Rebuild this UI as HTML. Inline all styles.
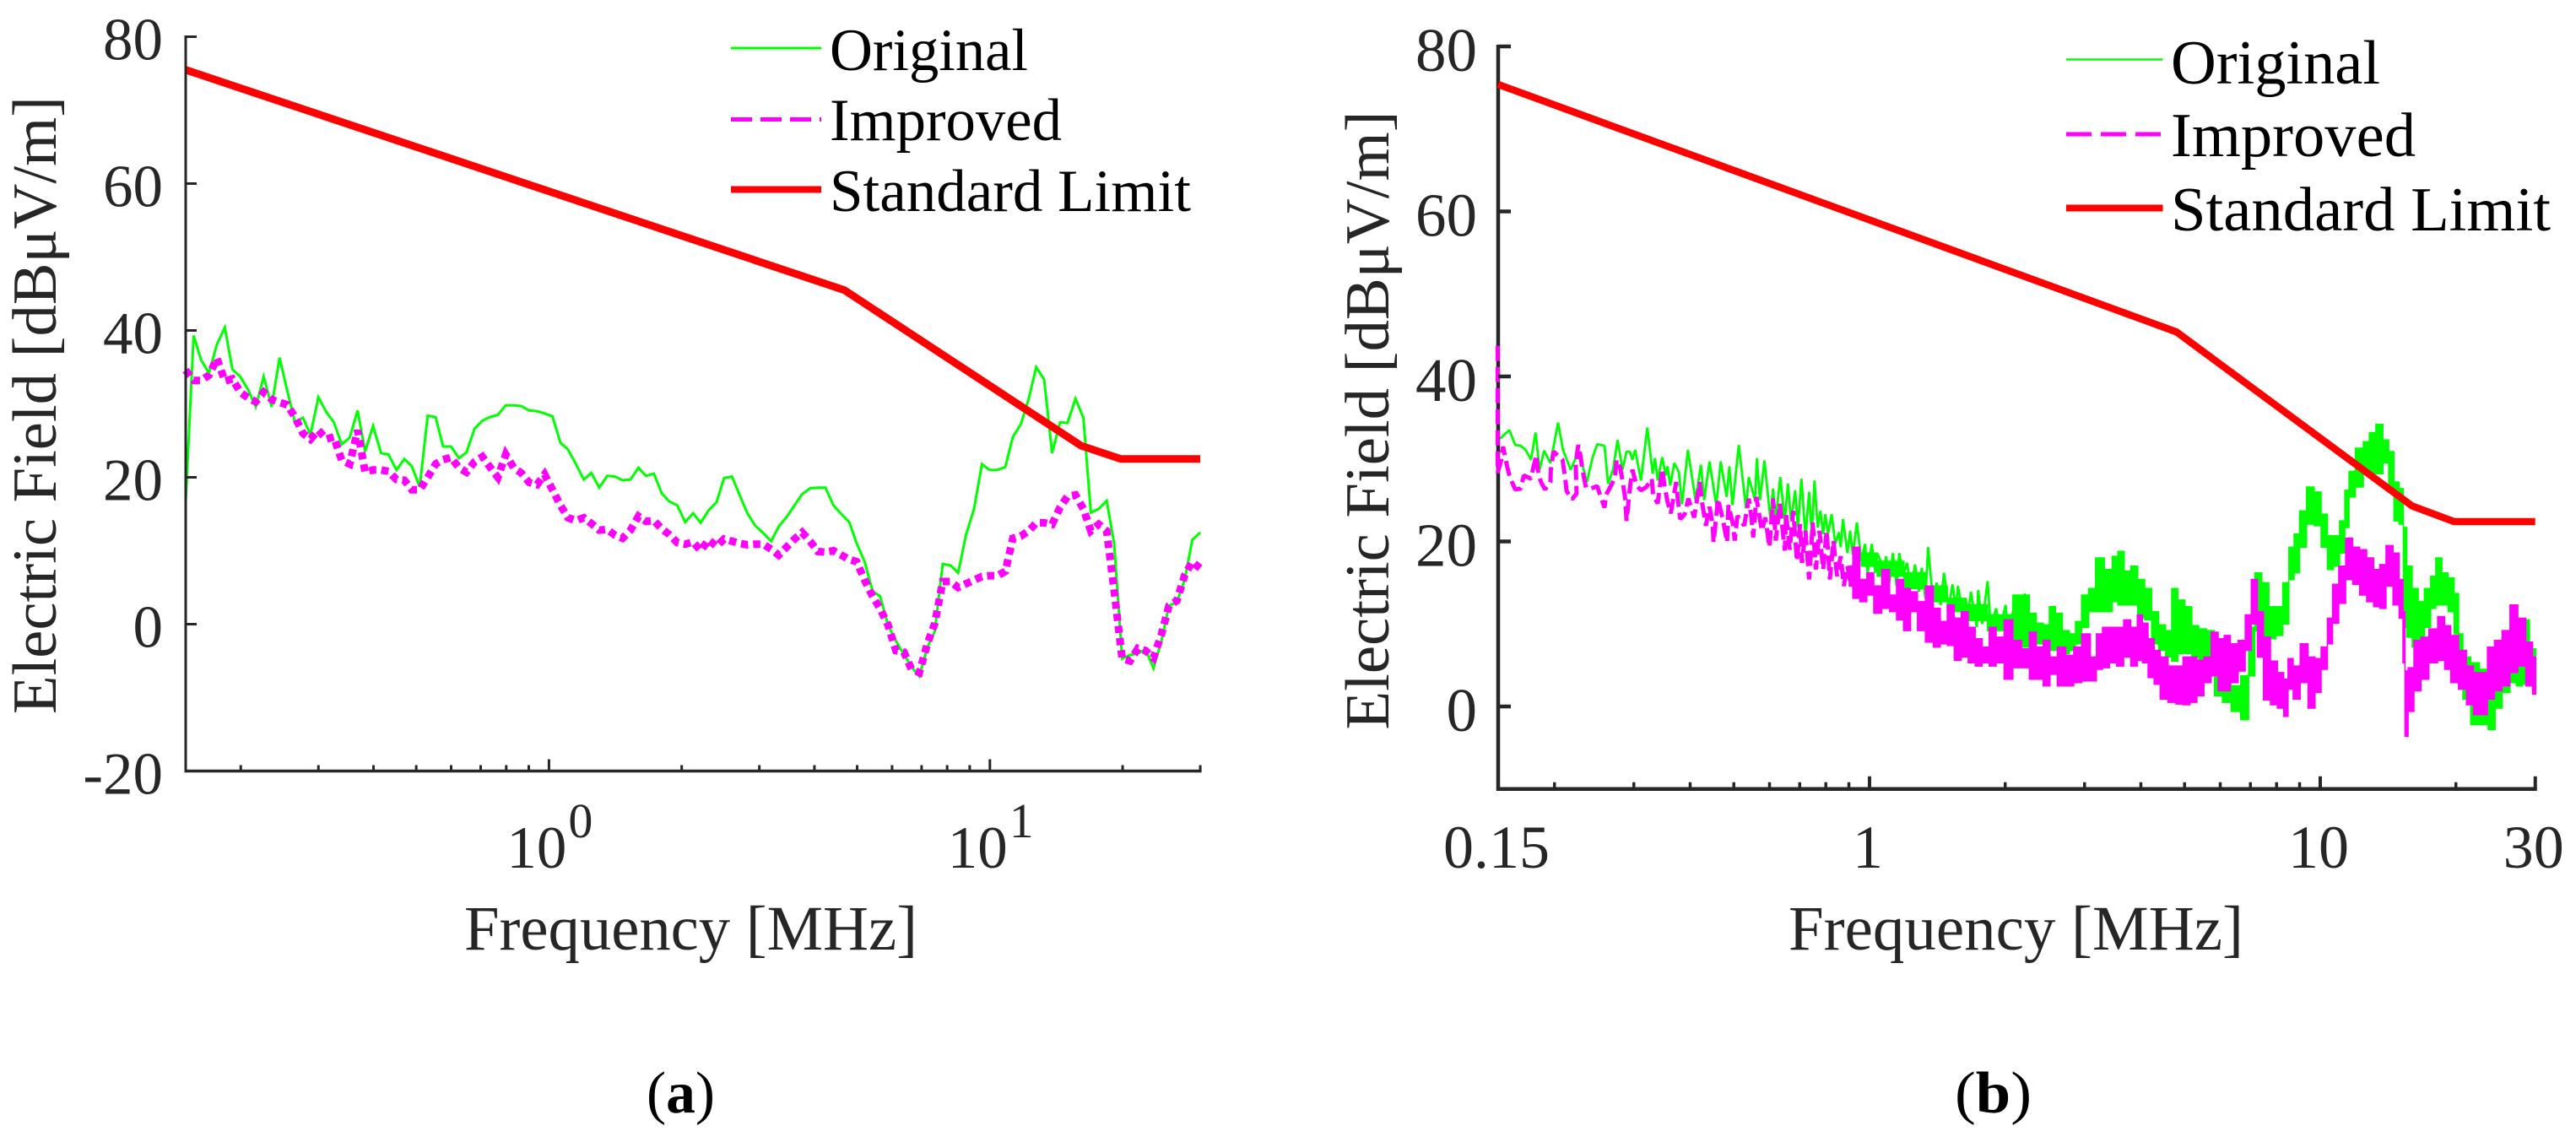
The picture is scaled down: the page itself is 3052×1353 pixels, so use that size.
<!DOCTYPE html>
<html lang="en">
<head>
<meta charset="utf-8">
<title>Electric field emissions: original vs improved</title>
<style>
html,body{margin:0;padding:0;background:#fff;width:3052px;height:1353px;overflow:hidden}
svg{display:block}
text{font-family:"Liberation Serif","DejaVu Serif",serif}
.lab{fill:#262626}
.leg{fill:#000}
</style>
</head>
<body>
<svg id="figure" xmlns="http://www.w3.org/2000/svg" width="3052" height="1353" viewBox="0 0 3052 1353">
  <rect x="0" y="0" width="3052" height="1353" fill="#fff"/>
  <g id="plotA"></g>
  <g id="plotB"></g>

  <text class="lab" font-size="74" textLength="732" lengthAdjust="spacingAndGlyphs" text-anchor="middle" transform="translate(66,480) rotate(-90)">Electric Field [dBμV/m]</text>
  <text class="lab" font-size="75" x="550" y="1125" textLength="537" lengthAdjust="spacingAndGlyphs">Frequency [MHz]</text>

  <text class="lab" font-size="74" textLength="733" lengthAdjust="spacingAndGlyphs" text-anchor="middle" transform="translate(1645,498) rotate(-90)">Electric Field [dBμV/m]</text>
  <text class="lab" font-size="75" x="2119" y="1125" textLength="539" lengthAdjust="spacingAndGlyphs">Frequency [MHz]</text>

  <g>
    <line x1="866" y1="57" x2="973" y2="57" stroke="#00ff00" stroke-width="3"/>
    <text class="leg" font-size="71" x="983" y="83" textLength="235" lengthAdjust="spacingAndGlyphs">Original</text>
    <line x1="866" y1="141.5" x2="973" y2="141.5" stroke="#ff00ff" stroke-width="5" stroke-dasharray="25 10"/>
    <text class="leg" font-size="71" x="983" y="166" textLength="275" lengthAdjust="spacingAndGlyphs">Improved</text>
    <line x1="866" y1="224.5" x2="973" y2="224.5" stroke="#ff0000" stroke-width="8"/>
    <text class="leg" font-size="71" x="983" y="250" textLength="428" lengthAdjust="spacingAndGlyphs">Standard Limit</text>
  </g>

  <g>
    <line x1="2448" y1="70.5" x2="2562.5" y2="70.5" stroke="#00ff00" stroke-width="2.5"/>
    <text class="leg" font-size="74" x="2572" y="99" textLength="248" lengthAdjust="spacingAndGlyphs">Original</text>
    <line x1="2448" y1="159" x2="2562.5" y2="159" stroke="#ff00ff" stroke-width="5" stroke-dasharray="30 11"/>
    <text class="leg" font-size="74" x="2572" y="185" textLength="290" lengthAdjust="spacingAndGlyphs">Improved</text>
    <line x1="2448" y1="246.5" x2="2562.5" y2="246.5" stroke="#ff0000" stroke-width="8"/>
    <text class="leg" font-size="74" x="2572" y="273" textLength="450" lengthAdjust="spacingAndGlyphs">Standard Limit</text>
  </g>

  <text class="leg" font-size="70" x="766" y="1318" textLength="81" lengthAdjust="spacingAndGlyphs">(<tspan font-weight="bold">a</tspan>)</text>
  <text class="leg" font-size="70" x="2316" y="1318" textLength="91" lengthAdjust="spacingAndGlyphs">(<tspan font-weight="bold">b</tspan>)</text>
</svg>

<script>
// ---------- Shared limit line (log10 MHz, dB) ----------
const limitLogFreqA = [-0.824, 0.670, 1.207, 1.297, 1.477];
const limitLevelA = [75.5, 45.5, 24.3, 22.5, 22.5];
const limitLogFreqB = [-0.824, 0.681, 1.204, 1.297, 1.477];
const limitLevelB = [75.4, 45.4, 24.3, 22.4, 22.4];

// ---------- Chart A data (log10 of frequency in MHz, dBuV/m) ----------
const logFreqA = [-.824,-.806,-.789,-.771,-.753,-.735,-.718,-.700,-.682,-.665,-.647,-.629,-.611,-.594,-.576,-.558,-.541,-.523,-.505,-.488,-.470,-.452,-.434,-.417,-.399,-.381,-.364,-.346,-.328,-.311,-.293,-.275,-.257,-.240,-.222,-.204,-.187,-.169,-.151,-.134,-.116,-.098,-.080,-.063,-.045,-.027,-.010,.008,.026,.043,.061,.079,.096,.114,.132,.150,.167,.185,.203,.220,.238,.256,.273,.291,.309,.327,.344,.362,.380,.397,.415,.433,.450,.468,.486,.504,.521,.539,.557,.574,.592,.610,.627,.645,.663,.681,.698,.716,.734,.751,.769,.787,.805,.822,.840,.858,.875,.893,.911,.928,.946,.964,.982,.999,1.017,1.035,1.052,1.070,1.088,1.105,1.123,1.141,1.159,1.176,1.194,1.212,1.229,1.247,1.265,1.282,1.300,1.318,1.336,1.353,1.371,1.389,1.406,1.424,1.442,1.459,1.477];
const originalA = [16.4,39.3,36.0,34.2,38.1,40.4,34.7,33.7,31.9,29.6,33.7,29.6,36.3,31.9,27.5,28.1,25.8,30.9,28.9,27.5,24.5,25.4,29.1,23.5,27.0,23.3,23.1,21.0,22.5,21.5,18.7,28.4,28.2,24.2,24.2,22.6,23.4,26.6,27.7,28.2,28.5,29.8,29.8,29.7,29.1,29.0,28.7,28.3,24.7,23.8,21.8,19.7,20.6,18.6,20.2,20.1,19.6,19.7,21.3,20.2,20.5,17.8,16.7,16.2,13.9,15.1,13.8,15.5,16.6,19.9,20.1,17.5,15.1,13.4,12.4,11.3,13.3,14.6,16.2,17.7,18.5,18.6,18.6,16.2,15.0,13.9,11.0,8.5,4.5,3.8,-0.1,-2.3,-4.1,-5.8,-7.1,-3.2,-1.0,8.2,8.0,7.0,12.2,15.7,21.8,21.0,21.0,21.4,25.5,27.2,30.7,35.0,33.3,23.3,27.5,27.4,30.7,28.1,15.2,15.7,16.8,10.9,-4.7,-4.2,-4.0,-3.4,-6.0,-2.3,2.5,3.0,6.1,11.5,12.5];
const improvedA = [34.6,33.2,33.2,33.9,36.2,33.1,33.4,31.6,30.8,30.3,31.6,30.6,30.2,29.9,28.2,26.0,25.2,26.4,25.2,25.5,22.3,21.8,26.4,20.7,21.0,21.0,20.8,19.7,19.6,18.3,18.3,20.0,21.8,22.4,22.7,21.3,20.7,22.1,22.8,21.4,20.0,23.1,21.3,20.6,19.3,19.0,20.4,18.3,16.2,14.5,14.1,14.5,13.7,12.8,12.9,12.1,11.7,12.8,14.7,14.0,14.1,13.0,12.2,11.1,10.9,11.2,10.0,11.5,10.6,11.6,11.3,11.0,10.8,10.9,10.9,10.2,9.4,10.5,11.6,12.5,11.3,9.9,9.8,10.0,9.4,8.8,8.5,6.0,3.8,2.1,-0.1,-3.6,-3.8,-6.1,-6.6,-2.7,0.1,5.8,5.8,5.0,5.5,6.0,6.5,6.6,6.6,7.2,11.7,12.0,12.7,13.8,13.8,13.6,15.9,17.4,17.6,15.7,12.7,13.6,12.7,4.5,-4.7,-5.0,-3.3,-3.6,-4.6,-1.4,2.5,3.2,6.7,8.5,7.6];

// ---------- Chart B: low-frequency traces (zig-zag line through the noise) ----------
const originalLineLogFreqB = [-.825,-.825,-.819,-.799,-.786,-.774,-.763,-.751,-.741,-.732,-.722,-.708,-.691,-.680,-.663,-.652,-.641,-.627,-.615,-.604,-.588,-.580,-.569,-.559,-.548,-.539,-.532,-.526,-.520,-.507,-.493,-.481,-.476,-.470,-.460,-.452,-.448,-.442,-.433,-.423,-.416,-.403,-.386,-.374,-.367,-.355,-.340,-.330,-.317,-.311,-.304,-.290,-.274,-.268,-.254,-.250,-.243,-.233,-.220,-.214,-.208,-.198,-.188,-.181,-.174,-.165,-.159,-.151,-.142,-.134,-.128,-.122,-.115,-.109,-.103,-.098,-.092,-.084,-.076,-.068,-.064,-.059,-.049,-.043,-.037,-.028,-.018,-.010,-.004,.005,.013,.017,.033,.037,.044,.052,.060,.066,.075,.083,.092,.101,.110,.116,.124,.130,.141,.149,.158,.165,.176,.184,.192,.196,.207,.213,.219,.225,.238,.241,.250,.262,.269,.281,.289,.302,.308,.320,.328,.345];
const originalLineB = [40.7,32.7,32.5,33.5,31.7,31.6,31.1,29.9,33.2,28.7,31.0,29.5,34.4,31.1,28.7,30.1,30.1,27.2,30.1,31.8,31.6,27.0,28.7,32.3,28.7,30.9,30.9,29.9,31.1,27.4,33.8,28.2,30.1,27.4,30.2,28.0,29.1,26.8,29.5,28.4,24.5,31.1,25.0,29.3,25.0,29.7,24.4,29.7,25.4,29.1,24.4,31.7,24.0,27.8,25.0,30.1,25.0,29.8,22.7,26.4,22.7,27.8,22.5,27.0,22.5,26.2,21.7,27.6,20.5,26.0,20.9,27.4,21.7,23.7,20.9,23.3,20.9,23.3,19.7,21.1,19.3,22.7,18.6,21.3,18.4,22.3,17.6,19.7,16.2,19.7,16.2,18.6,16.6,18.2,15.0,18.6,14.6,18.6,15.8,17.4,14.3,17.2,13.9,16.8,13.1,19.3,12.7,15.0,12.3,16.2,11.9,14.8,11.9,14.6,11.5,13.1,11.1,13.9,9.6,14.1,10.0,15.2,9.6,11.9,9.2,12.3,8.8,11.9,8.4,13.7];
const improvedLineLogFreqB = [-.825,-.825,-.817,-.813,-.804,-.798,-.786,-.774,-.767,-.751,-.747,-.739,-.736,-.729,-.720,-.708,-.707,-.701,-.681,-.675,-.672,-.660,-.650,-.652,-.646,-.641,-.637,-.629,-.619,-.604,-.600,-.588,-.584,-.577,-.565,-.561,-.553,-.548,-.542,-.539,-.534,-.530,-.526,-.517,-.507,-.495,-.483,-.480,-.470,-.460,-.455,-.448,-.441,-.429,-.425,-.420,-.410,-.402,-.389,-.384,-.377,-.371,-.363,-.355,-.348,-.346,-.336,-.324,-.316,-.313,-.303,-.299,-.293,-.278,-.268,-.262,-.258,-.251,-.239,-.231,-.222,-.214,-.208,-.199,-.188,-.185,-.177,-.169,-.161,-.154,-.150,-.142,-.134,-.126,-.119,-.111,-.103,-.095,-.088,-.080,-.072,-.064,-.057,-.049,-.041];
const improvedLineB = [43.7,28.3,29.9,31.5,29.1,27.8,26.3,26.4,28.0,27.6,28.7,30.5,28.7,27.2,26.3,27.2,28.7,30.9,29.9,27.6,26.1,25.1,25.8,29.5,31.7,30.3,28.7,26.5,26.4,26.7,26.0,24.1,25.7,26.4,27.7,29.9,28.9,27.4,25.2,22.5,25.2,27.2,28.7,26.8,26.2,26.6,27.6,25.6,24.6,28.8,26.8,24.8,23.4,27.2,25.0,22.7,23.3,25.2,22.9,24.6,27.2,24.6,21.9,24.2,22.1,19.9,25.2,22.3,19.9,24.4,22.1,20.1,23.1,21.9,25.2,22.9,20.5,25.4,21.3,22.9,19.3,25.2,20.1,24.6,18.9,23.3,19.0,23.7,17.6,22.1,17.4,21.3,15.4,22.3,16.6,21.3,16.6,21.3,15.4,20.1,15.8,18.2,14.6,17.0,14.6];

// ---------- Chart B: dense noise envelopes (upper / lower reach per frequency) ----------
const originalBandLogFreqB = [-.018,.052,.101,.149,.196,.234,.289,.347,.362,.378,.393,.405,.420,.436,.451,.463,.478,.494,.509,.533,.544,.558,.572,.587,.603,.618,.634,.649,.665,.676,.692,.707,.723,.738,.758,.773,.793,.812,.835,.847,.863,.878,.894,.909,.925,.936,.948,.960,.979,.994,1.010,1.022,1.037,1.049,1.060,1.068,1.088,1.103,1.115,1.132,1.146,1.158,1.169,1.181,1.188,1.196,1.212,1.223,1.239,1.251,1.262,1.278,1.289,1.305,1.309,1.324,1.344,1.363,1.382,1.394,1.413,1.429,1.441,1.456,1.472,1.478];
const originalHighB = [18.6,17.6,16.2,14.6,13.1,12.3,11.1,13.5,11.3,10.1,9.9,12.1,11.3,9.2,8.8,10.3,13.5,14.3,18.0,16.6,18.2,18.8,16.4,17.0,15.4,14.3,11.5,9.9,9.2,14.3,12.9,12.1,9.8,9.4,9.2,7.6,3.7,2.5,3.7,9.6,16.2,15.0,12.1,12.1,15.0,19.3,20.9,23.7,26.6,26.0,23.3,20.7,20.7,22.5,26.2,28.5,31.3,32.1,33.2,34.2,32.3,30.9,27.2,26.4,21.7,17.0,14.3,12.7,14.3,15.8,18.0,16.2,15.6,13.7,8.8,6.0,5.3,4.5,1.7,1.9,3.7,6.2,5.3,10.5,7.0,7.0];
const originalLowB = [17.0,15.8,14.3,12.7,11.5,10.4,9.2,7.2,7.2,7.6,7.2,6.8,6.8,6.4,6.8,7.6,9.6,11.5,11.5,11.5,12.7,12.3,12.3,12.3,10.7,10.5,7.6,6.8,6.0,5.5,6.4,6.4,6.0,5.6,6.0,1.3,0.5,-0.6,-1.6,3.7,9.2,8.2,8.2,8.6,10.0,15.4,16.2,19.3,22.1,21.9,19.3,16.6,17.0,18.6,21.7,25.4,26.6,28.3,28.2,28.2,29.5,26.4,22.5,22.1,9.6,8.4,7.2,7.2,9.6,11.9,12.3,12.3,11.5,8.8,2.1,0.9,-2.2,-2.2,-2.8,-0.2,1.7,2.9,2.5,2.7,3.7,1.7];

const improvedBandLogFreqB = [-.045,-.029,-.014,.002,.017,.037,.052,.068,.083,.099,.114,.134,.149,.165,.180,.196,.211,.227,.242,.258,.273,.289,.308,.328,.347,.362,.378,.392,.409,.424,.447,.459,.482,.498,.509,.525,.540,.556,.572,.587,.601,.610,.626,.637,.653,.672,.688,.703,.719,.734,.750,.766,.781,.793,.808,.828,.839,.855,.866,.882,.897,.913,.925,.932,.948,.963,.983,.994,1.010,1.022,1.033,1.049,1.064,1.080,1.095,1.111,1.126,1.138,1.154,1.169,1.181,1.186,1.190,1.200,1.216,1.231,1.251,1.270,1.282,1.297,1.317,1.332,1.348,1.363,1.379,1.394,1.413,1.429,1.448,1.464,1.478];
const improvedHighB = [17.0,19.3,15.4,16.2,14.6,16.6,13.5,15.4,14.3,13.9,12.7,14.6,11.9,10.3,12.3,10.7,11.5,9.6,8.2,7.2,9.6,8.4,10.5,8.0,7.0,9.0,7.2,8.0,6.0,7.2,6.2,7.2,8.8,6.0,8.8,9.6,9.6,9.6,10.5,9.6,11.1,10.1,8.2,6.8,6.0,4.9,4.9,6.0,6.0,5.6,6.0,9.0,8.2,8.6,7.6,8.0,11.1,15.4,11.5,8.4,5.5,4.1,3.3,5.8,4.9,7.6,6.0,5.8,7.2,10.7,14.8,17.0,20.4,19.3,19.0,18.0,16.6,17.2,19.5,18.6,15.4,11.5,4.3,4.7,8.0,8.4,9.4,10.9,9.8,8.6,6.8,4.9,4.1,4.1,7.2,8.0,9.2,12.3,10.7,7.8,6.0];
const improvedLowB = [14.6,13.1,12.7,13.5,11.3,11.9,11.5,10.5,9.2,11.5,9.2,7.8,7.2,7.6,7.4,5.6,6.0,5.3,4.9,5.3,4.9,5.3,3.3,4.7,4.7,3.3,3.3,2.5,3.9,2.5,2.5,2.9,3.1,3.1,4.5,4.7,5.3,4.9,6.0,4.9,5.6,5.3,3.5,2.7,0.9,0.5,0.3,0.2,0.5,1.3,2.9,3.7,1.9,1.9,2.9,4.3,6.8,10.0,6.0,0.8,0.2,-0.2,-1.2,2.1,0.9,2.9,-0.2,1.7,4.5,7.6,10.1,12.5,15.4,14.8,13.5,12.7,12.1,11.9,14.6,12.3,10.7,5.3,-3.6,-0.6,1.9,3.3,5.3,5.6,4.5,2.9,2.1,0.2,-1.0,-1.0,0.9,1.9,2.5,4.1,4.9,2.5,1.5];

// ---------- Axis ticks ----------
const yTicksA = [80, 60, 40, 20, 0, -20];
const yTickLabelsA = ['80', '60', '40', '20', '0', '-20'];
const yTicksB = [80, 60, 40, 20, 0];
const yTickLabelsB = ['80', '60', '40', '20', '0'];
const majorTicksMHz = [1, 10];
const minorTicksMHz = [0.2, 0.3, 0.4, 0.5, 0.6, 0.7, 0.8, 0.9, 2, 3, 4, 5, 6, 7, 8, 9, 20, 30];
const decadeExponentsA = [0, 1];
const xTicksB = [0.15, 1, 10, 30];
const xTickLabelsB = ['0.15', '1', '10', '30'];

// ---------- Axis functions ----------
const xA = lf => 220 + (lf + 0.8239) * 522.4;
const yA = v => 739.5 - v * 8.7;
const xB = lf => 1775 + (lf + 0.8239) * 534;
const yB = v => 837 - v * 9.775;

const NS = 'http://www.w3.org/2000/svg';
function mk(tag, parent, props) {
  const el = document.createElementNS(NS, tag);
  for (const k in props) el.setAttribute(k, props[k]);
  parent.appendChild(el);
  return el;
}
function linePts(xs, ys, fx, fy) {
  return xs.map((x, i) => fx(x).toFixed(1) + ',' + fy(ys[i]).toFixed(1)).join(' ');
}
// Stair-stepped envelope: each frequency bin holds its high / low reach across its width.
function bandPts(xs, hi, lo, fx, fy) {
  const px = xs.map(fx);
  const edgeL = i => i === 0 ? px[0] : (px[i - 1] + px[i]) / 2;
  const edgeR = i => i === px.length - 1 ? px[i] : (px[i] + px[i + 1]) / 2;
  const top = [];
  const bot = [];
  px.forEach((_, i) => {
    top.push(edgeL(i).toFixed(1) + ',' + fy(hi[i]).toFixed(1));
    top.push(edgeR(i).toFixed(1) + ',' + fy(hi[i]).toFixed(1));
    bot.push(edgeL(i).toFixed(1) + ',' + fy(lo[i]).toFixed(1));
    bot.push(edgeR(i).toFixed(1) + ',' + fy(lo[i]).toFixed(1));
  });
  return top.concat(bot.reverse()).join(' ');
}
const INK = '#262626';

// ---------- Chart A ----------
const plotA = document.getElementById('plotA');

const origLineA = mk('polyline', plotA, {points: linePts(logFreqA, originalA, xA, yA), fill: 'none', stroke: '#00ff00', 'stroke-width': 3, 'stroke-linejoin': 'miter'});



const impLineA = mk('polyline', plotA, {points: linePts(logFreqA, improvedA, xA, yA), fill: 'none', stroke: '#ff00ff', 'stroke-width': 9, 'stroke-dasharray': '8.5 6'});



const limLineA = mk('polyline', plotA, {points: linePts(limitLogFreqA, limitLevelA, xA, yA), fill: 'none', stroke: '#ff0000', 'stroke-width': 9});



const yAxisA = mk('line', plotA, {x1: 220, y1: yA(80) - 1.5, x2: 220, y2: yA(-20) + 1.5, stroke: INK, 'stroke-width': 3});



const xAxisA = mk('line', plotA, {x1: 218.5, y1: yA(-20), x2: xA(Math.log10(30)) + 1.5, y2: yA(-20), stroke: INK, 'stroke-width': 3.5});



yTicksA.forEach((v, i) => {
  const t = mk('line', plotA, {x1: 220, y1: yA(v), x2: 233, y2: yA(v), stroke: INK, 'stroke-width': 3});
  
  
  const l = mk('text', plotA, {x: 193, y: yA(v) + 27, 'font-size': 71, 'text-anchor': 'end', fill: INK});
  l.textContent = yTickLabelsA[i];
  
  
});
majorTicksMHz.forEach(m => {
  const x = xA(Math.log10(m));
  const t = mk('line', plotA, {x1: x, y1: yA(-20), x2: x, y2: yA(-20) - 14, stroke: INK, 'stroke-width': 3});
  
  
});
minorTicksMHz.forEach(m => {
  const x = xA(Math.log10(m));
  const t = mk('line', plotA, {x1: x, y1: yA(-20), x2: x, y2: yA(-20) - 7, stroke: INK, 'stroke-width': 3});
  
  
});
decadeExponentsA.forEach(e => {
  const x = xA(e);
  const base = mk('text', plotA, {x: x - 50, y: 1028, 'font-size': 71, fill: INK});
  base.textContent = '10';
  
  
  const sup = mk('text', plotA, {x: x + 23, y: 992, 'font-size': 58, fill: INK});
  sup.textContent = String(e);
  
  
});

// ---------- Chart B ----------
const plotB = document.getElementById('plotB');

const origBandB = mk('polygon', plotB, {points: bandPts(originalBandLogFreqB, originalHighB, originalLowB, xB, yB), fill: '#00ff00', stroke: '#00ff00', 'stroke-width': 1.5, 'stroke-linejoin': 'miter'});



const origLineB = mk('polyline', plotB, {points: linePts(originalLineLogFreqB, originalLineB, xB, yB), fill: 'none', stroke: '#00ff00', 'stroke-width': 2.8, 'stroke-linejoin': 'bevel'});



const yAxisB = mk('line', plotB, {x1: 1775, y1: yB(80) - 2, x2: 1775, y2: yB(-10) + 2, stroke: INK, 'stroke-width': 4.5});



const xAxisB = mk('line', plotB, {x1: 1773, y1: yB(-10), x2: xB(Math.log10(30)) + 2, y2: yB(-10), stroke: INK, 'stroke-width': 4.6});



const impLineB = mk('polyline', plotB, {points: linePts(improvedLineLogFreqB, improvedLineB, xB, yB), fill: 'none', stroke: '#ff00ff', 'stroke-width': 5, 'stroke-dasharray': '18 7', 'stroke-linejoin': 'bevel'});



const impBandB = mk('polygon', plotB, {points: bandPts(improvedBandLogFreqB, improvedHighB, improvedLowB, xB, yB), fill: '#ff00ff', stroke: '#ff00ff', 'stroke-width': 1.5, 'stroke-linejoin': 'miter'});



const limLineB = mk('polyline', plotB, {points: linePts(limitLogFreqB, limitLevelB, xB, yB), fill: 'none', stroke: '#ff0000', 'stroke-width': 8.5});



yTicksB.forEach((v, i) => {
  const t = mk('line', plotB, {x1: 1775, y1: yB(v), x2: 1790, y2: yB(v), stroke: INK, 'stroke-width': 4.5});
  
  
  const l = mk('text', plotB, {x: 1750, y: yB(v) + 29, 'font-size': 73, 'text-anchor': 'end', fill: INK});
  l.textContent = yTickLabelsB[i];
  
  
});
majorTicksMHz.forEach(m => {
  const x = xB(Math.log10(m));
  const t = mk('line', plotB, {x1: x, y1: yB(-10), x2: x, y2: yB(-10) - 15, stroke: INK, 'stroke-width': 4});
  
  
});
minorTicksMHz.forEach(m => {
  const x = xB(Math.log10(m));
  const isEnd = m === 30;
  const t = mk('line', plotB, {x1: x, y1: yB(-10), x2: x, y2: yB(-10) - (isEnd ? 15 : 8), stroke: INK, 'stroke-width': isEnd ? 4 : 3.5});
  
  
});
xTicksB.forEach((m, i) => {
  const l = mk('text', plotB, {x: xB(Math.log10(m)) - 2, y: 1028, 'font-size': 72, 'text-anchor': 'middle', fill: INK});
  l.textContent = xTickLabelsB[i];
  
  
});
</script>
</body>
</html>
